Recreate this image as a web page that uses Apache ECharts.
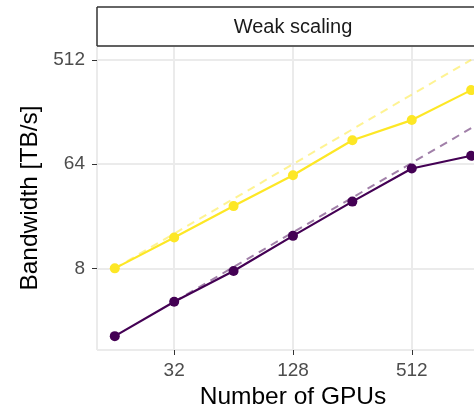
<!DOCTYPE html>
<html>
<head>
<meta charset="utf-8">
<script src="https://cdn.jsdelivr.net/npm/echarts@6/dist/echarts.min.js"></script>
<style>
html,body{margin:0;padding:0;background:#fff;overflow:hidden;}
#chart{width:474px;height:410px;}
</style>
</head>
<body>
<div id="chart"></div>
<script>
// ---- data ----
const gpus = [16, 32, 64, 128, 256, 512, 1024];
const bwYellow = [8.0, 14.8, 27.7, 51.3, 103, 154, 280];
const bwPurple = [2.07, 4.11, 7.6, 15.3, 30.3, 58.6, 75.6];
const idealYellowX = [16, 1024];
const idealYellow = [8, 512];
const idealPurpleX = [32, 1024];
const idealPurple = [4.11, 131];
const xTickLabels = [32, 128, 512];
const yTickLabels = [8, 64, 512];
const xRange = [13.0, 1261];
const yRange = [1.57, 675];
const panelTitle = 'Weak scaling';
const xTitle = 'Number of GPUs';
const yTitle = 'Bandwidth [TB/s]';

const YELLOW = '#FDE725', PURPLE = '#440154';
const FONT = 'Liberation Sans, Arial, sans-serif';

function pairs(xs, ys) { return xs.map((x, i) => [x, ys[i]]); }

const chart = echarts.init(document.getElementById('chart'), null, {renderer: 'canvas'});

const stripStroke = {stroke: '#333', lineWidth: 1.5};

const option = {
  animation: false,
  backgroundColor: '#fff',
  grid: {
    left: 97, right: -15, top: 46, bottom: 60,
    show: true, borderColor: '#333', borderWidth: 1, backgroundColor: 'transparent',
    containLabel: false, outerBoundsMode: 'none'
  },
  xAxis: [
    {
      type: 'log', logBase: 2, min: xRange[0], max: xRange[1],
      axisLine: {show: false},
      axisTick: {show: true, length: 5, customValues: xTickLabels, lineStyle: {color: '#333', width: 1}},
      splitLine: {show: true, lineStyle: {color: '#ebebeb', width: 1}},
      axisLabel: {
        margin: 11, color: '#4d4d4d', fontSize: 19, fontFamily: FONT,
        customValues: xTickLabels,
        formatter: v => String(Math.round(v))
      },
      name: xTitle, nameLocation: 'middle', nameGap: 35,
      nameTextStyle: {color: '#000', fontSize: 24.5, fontFamily: FONT}
    },
    {
      type: 'log', logBase: 4, min: xRange[0] / 2, max: xRange[1] / 2,
      position: 'bottom',
      axisLine: {show: false}, axisTick: {show: false}, axisLabel: {show: false},
      splitLine: {show: true, lineStyle: {color: '#ebebeb', width: 2}}
    }
  ],
  yAxis: [
    {
      type: 'log', logBase: 2 * Math.SQRT2, min: yRange[0], max: yRange[1], splitNumber: 6,
      axisLine: {show: false},
      axisTick: {show: true, length: 5, customValues: yTickLabels, lineStyle: {color: '#333', width: 1}},
      splitLine: {show: true, lineStyle: {color: '#ebebeb', width: 1}},
      axisLabel: {
        margin: 12, color: '#4d4d4d', fontSize: 19, fontFamily: FONT,
        customValues: yTickLabels,
        formatter: v => String(Math.round(v))
      },
      name: yTitle, nameLocation: 'middle', nameGap: 52,
      nameTextStyle: {color: '#000', fontSize: 24.5, fontFamily: FONT}
    },
    {
      type: 'log', logBase: 8, min: yRange[0], max: yRange[1],
      position: 'left',
      axisLine: {show: false}, axisTick: {show: false}, axisLabel: {show: false},
      splitLine: {show: true, lineStyle: {color: '#ebebeb', width: 2}}
    }
  ],
  graphic: [
    {type: 'line', z: 10, shape: {x1: 97, y1: 7, x2: 474, y2: 7}, style: stripStroke},
    {type: 'line', z: 10, shape: {x1: 97, y1: 46, x2: 474, y2: 46}, style: stripStroke},
    {type: 'line', z: 10, shape: {x1: 97, y1: 7, x2: 97, y2: 46}, style: stripStroke},
    {
      type: 'text', z: 11, x: 293, y: 27,
      style: {text: panelTitle, fill: '#1a1a1a', fontSize: 20, fontFamily: FONT,
              align: 'center', verticalAlign: 'middle'}
    }
  ],
  series: [
    {
      type: 'line', data: pairs(gpus, bwPurple), xAxisIndex: 0, yAxisIndex: 0,
      symbol: 'circle', symbolSize: 10, showSymbol: true,
      itemStyle: {color: PURPLE}, lineStyle: {color: PURPLE, width: 2.2}, z: 3
    },
    {
      type: 'line', data: pairs(gpus, bwYellow), xAxisIndex: 0, yAxisIndex: 0,
      symbol: 'circle', symbolSize: 10, showSymbol: true,
      itemStyle: {color: YELLOW}, lineStyle: {color: YELLOW, width: 2.2}, z: 3
    },
    {
      type: 'line', data: pairs(idealPurpleX, idealPurple), xAxisIndex: 0, yAxisIndex: 0,
      showSymbol: false, symbol: 'none',
      lineStyle: {color: PURPLE, width: 2, type: [8, 6], opacity: 0.5}, z: 4
    },
    {
      type: 'line', data: pairs(idealYellowX, idealYellow), xAxisIndex: 0, yAxisIndex: 0,
      showSymbol: false, symbol: 'none',
      lineStyle: {color: YELLOW, width: 2, type: [8, 6], opacity: 0.5}, z: 4
    }
  ]
};
chart.setOption(option);
</script>
</body>
</html>
